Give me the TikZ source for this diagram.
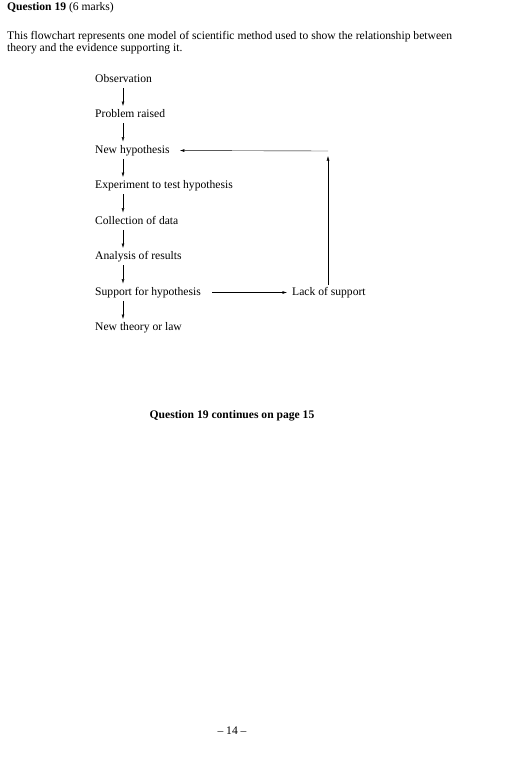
\documentclass[tikz,border=0pt]{standalone}
\usepackage{fontspec}
\setmainfont{Liberation Serif}
\usepackage{tikz}
\usetikzlibrary{arrows.meta}

\tikzset{
  step label/.style={anchor=west,inner sep=0pt,text height=8pt,text depth=2.5pt},
  flow arrow/.style={line width=0.4pt,-{Latex[length=4.5pt,width=2.8pt]}}
}

\begin{document}
\begin{tikzpicture}[x=1pt,y=-1pt,font=\fontsize{11.6}{12.6}\selectfont]
	\useasboundingbox (0,0) rectangle (530,774);
	\node[anchor=west,inner sep=0pt] (title) at (7,8) {\textbf{Question 19} (6 marks)};
	\node[anchor=north west,inner sep=0pt,align=left] (intro) at (7,31) {This flowchart represents one model of scientific method used to show the relationship between\\ theory and the evidence supporting it.};
			\node[step label] (obs) at (95,79.5) {Observation};
			\node[step label] (prob) at (95,115) {Problem raised};
			\node[step label] (hyp) at (95,150.5) {New hypothesis};
			\node[step label] (exp) at (95,186) {Experiment to test hypothesis};
			\node[step label] (coll) at (95,221.5) {Collection of data};
			\node[step label] (anal) at (95,257) {Analysis of results};
			\node[step label] (sup) at (95,292.5) {Support for hypothesis};
			\node[step label] (theory) at (95,328) {New theory or law};
			\node[step label] (lack) at (292,292.5) {Lack of support};
			\coordinate (arrx) at (123,0);
			\coordinate (ret) at (328,151);
			\foreach \a/\b in {obs/prob,prob/hyp,hyp/exp,exp/coll,coll/anal,anal/sup,sup/theory}
				\draw[flow arrow,shorten <=3pt,shorten >=3.5pt] (\a.south -| arrx) -- (\b.north -| arrx);
			\draw[flow arrow,shorten <=11pt,shorten >=5pt] (sup.east) -- (lack.west);
			\draw[flow arrow,shorten <=2pt,shorten >=5pt] (lack.north -| ret) -- (ret);
			\draw[flow arrow,shorten >=10pt] (ret) -- (hyp.east);
	\node[inner sep=0pt] (cont) at (232,416) {\textbf{Question 19 continues on page 15}};
	\node[inner sep=0pt] (page) at (232,731) {– 14 –};
\end{tikzpicture}
\end{document}
